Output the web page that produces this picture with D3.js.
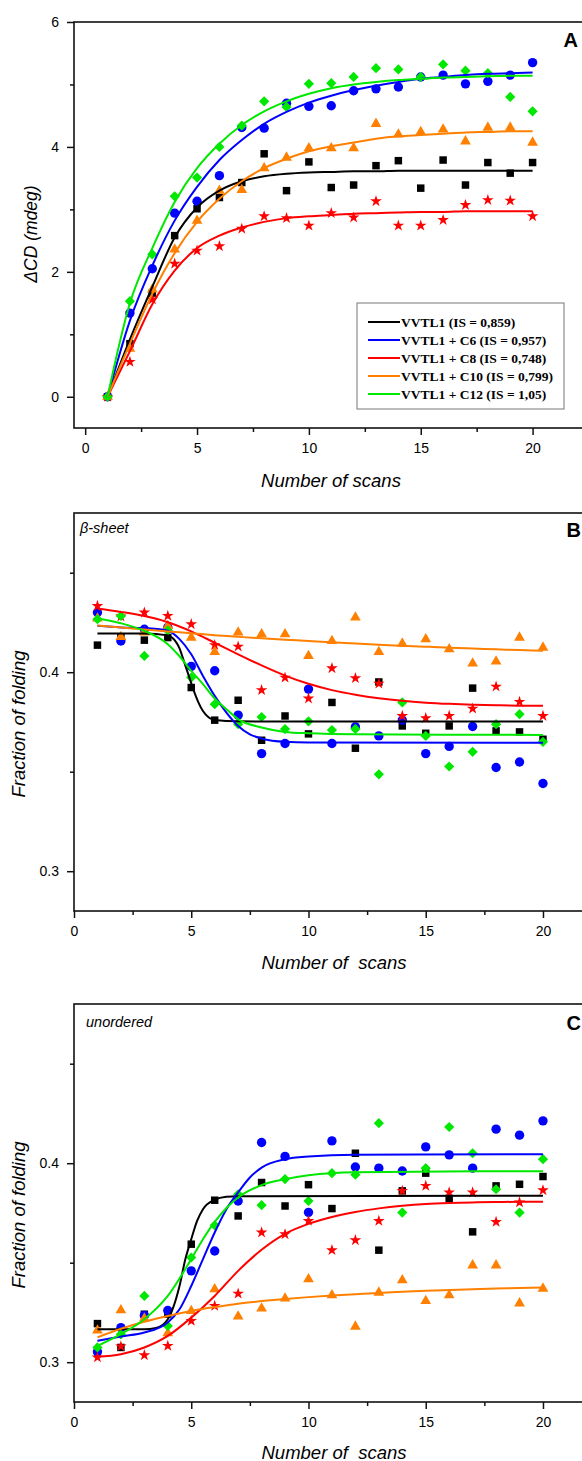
<!DOCTYPE html>
<html>
<head>
<meta charset="utf-8">
<title>VVTL1 folding scans</title>
<script src="https://cdn.jsdelivr.net/npm/d3@7"></script>
<style>
  html, body { margin: 0; padding: 0; background: #fff; }
  svg { display: block; }
  .tick text { font-family: "Liberation Sans", Arial, sans-serif; font-size: 14px; fill: #000; }
  .lbl { font-family: "Liberation Sans", Arial, sans-serif; font-style: italic; fill: #000; white-space: pre; }
  .letter { font-family: "Liberation Sans", Arial, sans-serif; font-weight: bold; font-size: 20px; fill: #000; }
  .leg { font-family: "Liberation Serif", "Times New Roman", serif; font-weight: bold; font-size: 13.5px; fill: #000; }
</style>
</head>
<body>
<script>
// x values shared by every series
const scans = [1, 2, 3, 4, 5, 6, 7, 8, 9, 10, 11, 12, 13, 14, 15, 16, 17, 18, 19, 20];

const legendLabels = ['VVTL1 (IS = 0,859)', 'VVTL1 + C6 (IS = 0,957)', 'VVTL1 + C8 (IS = 0,748)',
  'VVTL1 + C10 (IS = 0,799)', 'VVTL1 + C12 (IS = 1,05)'];

// panel A: delta CD (mdeg)
const cdVVTL1 = [0, 0.85, 1.66, 2.58, 3.01, 3.19, 3.43, 3.89, 3.30, 3.76, 3.35, 3.39, 3.70, 3.78, 3.34, 3.79, 3.39, 3.75, 3.58, 3.75];
const cdC6    = [0, 1.34, 2.05, 2.94, 3.13, 3.54, 4.31, 4.30, 4.70, 4.65, 4.66, 4.90, 4.93, 4.96, 5.12, 5.15, 5.01, 5.05, 5.15, 5.35];
const cdC8    = [0, 0.56, 1.56, 2.13, 2.34, 2.41, 2.69, 2.89, 2.86, 2.74, 2.94, 2.87, 3.13, 2.74, 2.74, 2.83, 3.07, 3.15, 3.14, 2.89];
const cdC10   = [0, 0.77, 1.72, 2.36, 2.82, 3.30, 3.31, 3.66, 3.83, 3.98, 3.98, 3.98, 4.37, 4.20, 4.24, 4.28, 4.09, 4.31, 4.31, 4.07];
const cdC12   = [0, 1.53, 2.28, 3.21, 3.51, 4.00, 4.34, 4.73, 4.64, 5.01, 5.02, 5.12, 5.26, 5.24, 5.12, 5.32, 5.22, 5.18, 4.80, 4.57];

// panel A fitted curves, read at each scan
const cdFitVVTL1 = [0, 0.92, 1.76, 2.55, 3.03, 3.30, 3.45, 3.53, 3.57, 3.59, 3.60, 3.61, 3.61, 3.62, 3.62, 3.62, 3.62, 3.62, 3.62, 3.62];
const cdFitC6    = [0, 1.22, 2.10, 2.82, 3.36, 3.79, 4.11, 4.37, 4.56, 4.71, 4.82, 4.91, 4.98, 5.04, 5.09, 5.12, 5.15, 5.17, 5.18, 5.19];
const cdFitC8    = [0, 0.73, 1.48, 2.02, 2.38, 2.58, 2.71, 2.80, 2.86, 2.89, 2.91, 2.93, 2.94, 2.95, 2.96, 2.96, 2.97, 2.97, 2.97, 2.97];
const cdFitC10   = [0, 0.85, 1.65, 2.30, 2.80, 3.17, 3.45, 3.66, 3.81, 3.93, 4.01, 4.07, 4.13, 4.17, 4.19, 4.21, 4.23, 4.24, 4.25, 4.25];
const cdFitC12   = [0, 1.50, 2.38, 3.12, 3.66, 4.05, 4.35, 4.57, 4.73, 4.85, 4.94, 5.00, 5.04, 5.07, 5.09, 5.11, 5.12, 5.13, 5.14, 5.14];

// panel B: beta-sheet fraction
const sheetVVTL1 = [0.4136, 0.4175, 0.4161, 0.4174, 0.3923, 0.3759, 0.3859, 0.3658, 0.3780, 0.3690, 0.3848, 0.3618, 0.3951, 0.3730, 0.3693, 0.3730, 0.3920, 0.3705, 0.3700, 0.3663];
const sheetC6    = [0.4300, 0.4157, 0.4216, 0.4225, 0.4029, 0.4007, 0.3784, 0.3591, 0.3642, 0.3915, 0.3642, 0.3725, 0.3680, 0.3759, 0.3591, 0.3627, 0.3727, 0.3521, 0.3549, 0.3441];
const sheetC8    = [0.4333, 0.4280, 0.4300, 0.4283, 0.4241, 0.4136, 0.4129, 0.3910, 0.3973, 0.3868, 0.4020, 0.3970, 0.3943, 0.3780, 0.3769, 0.3780, 0.3817, 0.3928, 0.3851, 0.3780];
const sheetC10   = [0.4270, 0.4177, 0.4200, 0.4233, 0.4174, 0.4102, 0.4200, 0.4191, 0.4191, 0.4082, 0.4157, 0.4275, 0.4102, 0.4144, 0.4166, 0.4116, 0.4044, 0.4054, 0.4174, 0.4124];
const sheetC12   = [0.4266, 0.4283, 0.4082, 0.4210, 0.3973, 0.3839, 0.3739, 0.3775, 0.3714, 0.3753, 0.3709, 0.3715, 0.3487, 0.3848, 0.3680, 0.3526, 0.3600, 0.3739, 0.3789, 0.3650];

// panel B fitted curves ([scan, value] where the drop is steep)
const sheetFitVVTL1 = [[1, 0.4195], [3, 0.4194], [4, 0.4185], [4.3, 0.4160], [4.5, 0.4120], [4.7, 0.4050], [4.9, 0.3980],
  [5.1, 0.3910], [5.3, 0.3850], [5.5, 0.3805], [5.75, 0.3772], [6, 0.3760], [7, 0.3753], [10, 0.3752], [20, 0.3752]];
const sheetFitC6 = [[1, 0.4233], [2, 0.4225], [3, 0.4222], [4, 0.4208], [4.5, 0.4166], [5, 0.4090], [5.5, 0.3981], [6, 0.3881],
  [6.5, 0.3797], [7, 0.3730], [7.5, 0.3688], [8, 0.3667], [9, 0.3650], [10, 0.3647], [20, 0.3645]];
const sheetFitC8  = [0.4320, 0.4303, 0.4282, 0.4251, 0.4205, 0.4148, 0.4090, 0.4034, 0.3983, 0.3942, 0.3910, 0.3887, 0.3869, 0.3856, 0.3847, 0.3841, 0.3837, 0.3834, 0.3832, 0.3831];
const sheetFitC10 = [0.4235, 0.4225, 0.4215, 0.4205, 0.4196, 0.4186, 0.4178, 0.4170, 0.4163, 0.4157, 0.4150, 0.4144, 0.4138, 0.4133, 0.4128, 0.4123, 0.4119, 0.4115, 0.4111, 0.4108];
const sheetFitC12 = [[1, 0.4270], [2, 0.4246], [3, 0.4208], [4, 0.4141], [4.5, 0.4080], [5, 0.4007], [5.5, 0.3940], [6, 0.3868],
  [6.5, 0.3814], [7, 0.3764], [8, 0.3722], [9, 0.3700], [10, 0.3693], [12, 0.3688], [20, 0.3685]];

// panel C: unordered fraction
const unordVVTL1 = [0.3194, 0.3074, 0.3241, 0.3242, 0.3593, 0.3814, 0.3735, 0.3903, 0.3785, 0.3892, 0.3772, 0.4050, 0.3563, 0.3861, 0.3950, 0.3823, 0.3655, 0.3886, 0.3894, 0.3933];
const unordC6    = [0.3052, 0.3174, 0.3235, 0.3260, 0.3459, 0.3559, 0.3810, 0.4104, 0.4034, 0.3753, 0.4112, 0.3981, 0.3975, 0.3961, 0.4082, 0.4042, 0.3975, 0.4171, 0.4141, 0.4213];
const unordC8    = [0.3024, 0.3080, 0.3035, 0.3082, 0.3208, 0.3283, 0.3345, 0.3652, 0.3643, 0.3710, 0.3563, 0.3613, 0.3710, 0.3861, 0.3886, 0.3853, 0.3853, 0.3705, 0.3803, 0.3864];
const unordC10   = [0.3160, 0.3261, 0.3220, 0.3146, 0.3258, 0.3367, 0.3230, 0.3270, 0.3320, 0.3417, 0.3337, 0.3179, 0.3350, 0.3412, 0.3308, 0.3337, 0.3487, 0.3487, 0.3296, 0.3370];
const unordC12   = [0.3074, 0.3140, 0.3333, 0.3182, 0.3526, 0.3688, 0.3844, 0.3789, 0.3920, 0.3810, 0.3950, 0.3942, 0.4201, 0.3752, 0.3975, 0.4182, 0.4050, 0.3869, 0.3752, 0.4020];

// panel C fitted curves
const unordFitVVTL1 = [[1, 0.3166], [3, 0.3166], [3.5, 0.3172], [4, 0.3216], [4.5, 0.3383], [4.75, 0.3518], [5, 0.3618],
  [5.25, 0.3710], [5.5, 0.3769], [6, 0.3816], [6.5, 0.3831], [7, 0.3834], [20, 0.3836]];
const unordFitC6 = [[1, 0.3107], [2, 0.3129], [3, 0.3149], [4, 0.3200], [4.5, 0.3266], [5, 0.3383], [5.5, 0.3518], [6, 0.3652],
  [6.5, 0.3769], [7, 0.3853], [7.5, 0.3928], [8, 0.3978], [9, 0.4020], [10, 0.4034], [12, 0.4043], [20, 0.4045]];
const unordFitC8  = [0.3027, 0.3040, 0.3074, 0.3132, 0.3224, 0.3333, 0.3459, 0.3565, 0.3645, 0.3695, 0.3730, 0.3755, 0.3773, 0.3786, 0.3795, 0.3800, 0.3803, 0.3805, 0.3806, 0.3806];
const unordFitC10 = [0.3125, 0.3168, 0.3203, 0.3232, 0.3257, 0.3277, 0.3294, 0.3307, 0.3318, 0.3327, 0.3335, 0.3342, 0.3348, 0.3354, 0.3359, 0.3363, 0.3367, 0.3370, 0.3373, 0.3376];
const unordFitC12 = [[1, 0.3082], [2, 0.3141], [3, 0.3216], [4, 0.3333], [5, 0.3518], [5.5, 0.3618], [6, 0.3705], [6.5, 0.3775],
  [7, 0.3828], [8, 0.3890], [9, 0.3920], [10, 0.3940], [12, 0.3955], [20, 0.3960]];

// tick values
const xMajor = [0, 5, 10, 15, 20];
const xMinor = [2.5, 7.5, 12.5, 17.5, 22.5];

// styling per series: VVTL1, C6, C8, C10, C12
const colors = ['#000000', '#0000ff', '#ff0000', '#ff8000', '#00e800'];
const symTypes = [d3.symbolSquare, d3.symbolCircle, d3.symbolStar, d3.symbolTriangle, d3.symbolSquare];
const symSizes = [56, 69, 42, 50, 52];
const symRotate = [0, 0, 0, 0, 45];

const W = 582, H = 1461;
const svg = d3.select('body').append('svg').attr('width', W).attr('height', H);
svg.append('rect').attr('width', W).attr('height', H).attr('fill', '#fff');

function onScans(ys){ return ys.map((v, i) => [scans[i], v]); }

function drawPanel(p){
  const x = d3.scaleLinear().domain(p.xDomain).range(p.xRange);
  const y = d3.scaleLinear().domain(p.yDomain).range([p.bottom, p.top]);
  const g = svg.append('g');

  // markers first, fitted curves on top
  p.points.forEach((ys, i) => {
    const sym = d3.symbol().type(symTypes[i]).size(symSizes[i]);
    g.append('g').selectAll('path')
      .data(onScans(ys))
      .join('path')
      .attr('d', sym)
      .attr('transform', d => `translate(${x(d[0])},${y(d[1])})` + (symRotate[i] ? ` rotate(${symRotate[i]})` : ''))
      .attr('fill', colors[i]);
  });

  const line = d3.line().x(d => x(d[0])).y(d => y(d[1])).curve(d3.curveMonotoneX);
  p.fits.forEach((f, i) => {
    g.append('path')
      .attr('d', line(f))
      .attr('fill', 'none')
      .attr('stroke', colors[i])
      .attr('stroke-width', 2);
  });

  // frame
  g.append('rect')
    .attr('x', p.xRange[0]).attr('y', p.top)
    .attr('width', p.xRange[1] - p.xRange[0]).attr('height', p.bottom - p.top)
    .attr('fill', 'none').attr('stroke', '#111').attr('stroke-width', 1.6);

  // axes
  const axes = [
    g.append('g').attr('transform', `translate(0,${p.bottom})`)
      .call(d3.axisBottom(x).tickValues(xMajor).tickSize(7).tickPadding(8).tickFormat(d3.format('d'))),
    g.append('g').attr('transform', `translate(0,${p.bottom})`)
      .call(d3.axisBottom(x).tickValues(xMinor).tickSize(4).tickFormat('')),
    g.append('g').attr('transform', `translate(${p.xRange[0]},0)`)
      .call(d3.axisLeft(y).tickValues(p.yMajor).tickSize(7).tickPadding(8).tickFormat(p.yFormat)),
    g.append('g').attr('transform', `translate(${p.xRange[0]},0)`)
      .call(d3.axisLeft(y).tickValues(p.yMinor).tickSize(4).tickFormat(''))
  ];
  axes.forEach(a => {
    a.select('.domain').remove();
    a.attr('color', '#111');
    a.selectAll('.tick line').attr('stroke-width', 1.5);
  });

  // labels
  g.append('text').attr('class', 'lbl')
    .attr('x', p.xlabelPos[0]).attr('y', p.xlabelPos[1])
    .attr('text-anchor', 'middle').attr('font-size', 18.5)
    .text(p.xlabel);
  g.append('text').attr('class', 'lbl')
    .attr('transform', `translate(${p.ylabelPos[0]},${p.ylabelPos[1]}) rotate(-90)`)
    .attr('text-anchor', 'middle').attr('font-size', p.ylabelSize)
    .text(p.ylabel);
  g.append('text').attr('class', 'letter')
    .attr('x', p.letterPos[0]).attr('y', p.letterPos[1])
    .attr('text-anchor', 'end')
    .text(p.letter);
  if(p.tag){
    g.append('text').attr('class', 'lbl')
      .attr('x', p.tagPos[0]).attr('y', p.tagPos[1])
      .attr('font-size', 14.5)
      .text(p.tag);
  }
}

function drawLegend(left, top, w, h){
  const g = svg.append('g');
  g.append('rect').attr('x', left).attr('y', top).attr('width', w).attr('height', h)
    .attr('fill', '#fff').attr('stroke', '#777').attr('stroke-width', 1);
  legendLabels.forEach((t, i) => {
    const cy = top + 19 + i * 18;
    g.append('line').attr('x1', left + 11).attr('x2', left + 43).attr('y1', cy).attr('y2', cy)
      .attr('stroke', colors[i]).attr('stroke-width', 2);
    g.append('text').attr('class', 'leg').attr('x', left + 44).attr('y', cy + 4.5).text(t);
  });
}

drawPanel({
  top: 22, bottom: 428,
  xDomain: [-0.5, 23], xRange: [74, 599.7],
  yDomain: [-0.5, 6], yMajor: [0, 2, 4, 6], yMinor: [1, 3, 5], yFormat: d3.format('d'),
  points: [cdVVTL1, cdC6, cdC8, cdC10, cdC12],
  fits: [cdFitVVTL1, cdFitC6, cdFitC8, cdFitC10, cdFitC12].map(onScans),
  xlabel: 'Number of scans', xlabelPos: [331, 486.5],
  ylabel: '\u0394CD (mdeg)', ylabelPos: [37, 234], ylabelSize: 17.5,
  letter: 'A', letterPos: [578, 47]
});
drawLegend(357, 303, 207, 106);

drawPanel({
  top: 513, bottom: 911,
  xDomain: [0, 22.5], xRange: [74, 601.6],
  yDomain: [0.28, 0.48], yMajor: [0.3, 0.4], yMinor: [0.35, 0.45], yFormat: d3.format('.1f'),
  points: [sheetVVTL1, sheetC6, sheetC8, sheetC10, sheetC12],
  fits: [sheetFitVVTL1, sheetFitC6, onScans(sheetFitC8), onScans(sheetFitC10), sheetFitC12],
  xlabel: 'Number of  scans', xlabelPos: [334, 968.5],
  ylabel: 'Fraction of folding', ylabelPos: [25, 724], ylabelSize: 18.5,
  letter: 'B', letterPos: [581, 537],
  tag: '\u03b2-sheet', tagPos: [80, 533]
});

drawPanel({
  top: 1004, bottom: 1402,
  xDomain: [0, 22.5], xRange: [74, 601.6],
  yDomain: [0.28, 0.48], yMajor: [0.3, 0.4], yMinor: [0.35, 0.45], yFormat: d3.format('.1f'),
  points: [unordVVTL1, unordC6, unordC8, unordC10, unordC12],
  fits: [unordFitVVTL1, unordFitC6, onScans(unordFitC8), onScans(unordFitC10), unordFitC12],
  xlabel: 'Number of  scans', xlabelPos: [334, 1458.5],
  ylabel: 'Fraction of folding', ylabelPos: [25, 1215], ylabelSize: 18.5,
  letter: 'C', letterPos: [581, 1030],
  tag: 'unordered', tagPos: [86, 1027]
});
</script>
</body>
</html>
